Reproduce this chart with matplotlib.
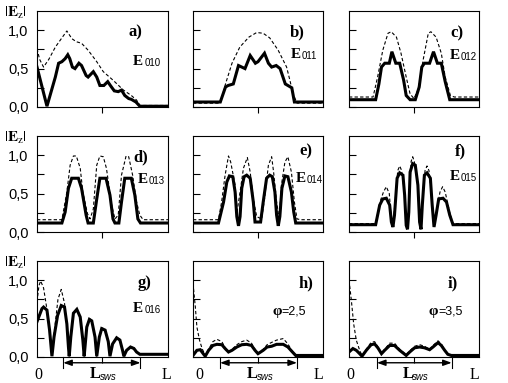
import matplotlib
matplotlib.use('Agg')
import matplotlib.pyplot as plt

plt.rcParams['font.family'] = ['Liberation Sans', 'DejaVu Sans']
plt.rcParams['mathtext.fontset'] = 'stix'

# --- data (x as fraction of L, y = |Ez|) ---
# a) E010
xa_s = [0, 0.076, 0.14, 0.165, 0.19, 0.215, 0.235, 0.25, 0.27, 0.29, 0.32, 0.34, 0.375, 0.39, 0.43,
        0.456, 0.48, 0.51, 0.54, 0.56, 0.59, 0.62, 0.645, 0.67, 0.70, 0.72, 0.755, 0.785, 1.0]
ya_s = [0.52, 0.01, 0.39, 0.57, 0.59, 0.63, 0.68, 0.63, 0.52, 0.50, 0.57, 0.54, 0.41, 0.39, 0.46,
        0.39, 0.28, 0.28, 0.33, 0.28, 0.21, 0.20, 0.22, 0.15, 0.11, 0.10, 0.065, 0.01, 0.01]
xa_d = [0, 0.02, 0.05, 0.09, 0.14, 0.19, 0.228, 0.266, 0.30, 0.34, 0.39, 0.456, 0.506, 0.58, 0.66,
        0.72, 0.76, 0.785, 1.0]
ya_d = [0.76, 0.62, 0.52, 0.62, 0.78, 0.90, 0.99, 0.89, 0.85, 0.83, 0.74, 0.59, 0.46, 0.35, 0.22,
        0.15, 0.09, 0.02, 0.02]

# b) E011
xb_s = [0, 0.21, 0.25, 0.27, 0.31, 0.35, 0.375, 0.40, 0.44, 0.48, 0.50, 0.55, 0.58, 0.605, 0.64,
        0.67, 0.71, 0.73, 0.76, 0.78, 1.0]
yb_s = [0.065, 0.065, 0.26, 0.28, 0.30, 0.54, 0.52, 0.50, 0.67, 0.57, 0.59, 0.70, 0.57, 0.52, 0.54,
        0.50, 0.30, 0.28, 0.25, 0.065, 0.065]
xb_d = [0, 0.21, 0.25, 0.30, 0.36, 0.43, 0.49, 0.54, 0.59, 0.655, 0.72, 0.745, 0.77, 0.80, 1.0]
yb_d = [0.05, 0.05, 0.30, 0.57, 0.78, 0.91, 0.97, 0.96, 0.90, 0.74, 0.52, 0.35, 0.17, 0.05, 0.05]

# c) E012
xc_s = [0, 0.205, 0.23, 0.25, 0.275, 0.31, 0.33, 0.36, 0.39, 0.42, 0.44, 0.47, 0.51, 0.54, 0.56,
        0.58, 0.62, 0.65, 0.68, 0.71, 0.74, 0.775, 1.0]
yc_s = [0.095, 0.095, 0.30, 0.52, 0.57, 0.57, 0.72, 0.57, 0.57, 0.35, 0.15, 0.095, 0.095, 0.26, 0.52,
        0.57, 0.57, 0.72, 0.57, 0.57, 0.33, 0.095, 0.095]
xc_d = [0, 0.185, 0.22, 0.26, 0.30, 0.325, 0.365, 0.40, 0.44, 0.47, 0.50, 0.53, 0.57, 0.61, 0.63,
        0.67, 0.71, 0.74, 0.78, 0.81, 1.0]
yc_d = [0.13, 0.13, 0.39, 0.74, 0.96, 0.98, 0.91, 0.70, 0.39, 0.17, 0.11, 0.22, 0.61, 0.96, 0.98,
        0.91, 0.70, 0.39, 0.15, 0.13, 0.13]

# d) E013
xd_s = [0, 0.19, 0.215, 0.24, 0.265, 0.316, 0.34, 0.375, 0.39, 0.43, 0.456, 0.48, 0.527, 0.557,
        0.58, 0.595, 0.625, 0.645, 0.67, 0.72, 0.747, 0.77, 0.79, 1.0]
yd_s = [0.117, 0.117, 0.26, 0.57, 0.70, 0.70, 0.57, 0.22, 0.117, 0.117, 0.43, 0.70, 0.70, 0.48,
        0.17, 0.117, 0.117, 0.39, 0.70, 0.70, 0.48, 0.17, 0.117, 0.117]
xd_d = [0, 0.19, 0.228, 0.253, 0.278, 0.30, 0.33, 0.35, 0.385, 0.405, 0.43, 0.456, 0.48, 0.506,
        0.53, 0.57, 0.595, 0.62, 0.645, 0.68, 0.70, 0.73, 0.76, 0.785, 0.81, 1.0]
yd_d = [0.16, 0.16, 0.52, 0.87, 0.99, 0.99, 0.83, 0.52, 0.24, 0.17, 0.30, 0.87, 0.99, 0.98,
        0.83, 0.35, 0.17, 0.22, 0.74, 0.99, 0.98, 0.74, 0.39, 0.22, 0.16, 0.16]

# e) E014
xe_s = [0, 0.196, 0.235, 0.26, 0.28, 0.306, 0.324, 0.337, 0.35, 0.362, 0.375, 0.393, 0.413, 0.44,
        0.464, 0.477, 0.52, 0.54, 0.566, 0.59, 0.61, 0.63, 0.643, 0.656, 0.668, 0.684, 0.707, 0.73,
        0.757, 0.775, 0.79, 1.0]
ye_s = [0.117, 0.117, 0.39, 0.65, 0.73, 0.72, 0.52, 0.20, 0.08, 0.20, 0.57, 0.72, 0.74, 0.70,
        0.39, 0.13, 0.13, 0.39, 0.70, 0.74, 0.72, 0.52, 0.22, 0.08, 0.20, 0.57, 0.73, 0.72,
        0.52, 0.26, 0.117, 0.117]
xe_d = [0, 0.196, 0.22, 0.247, 0.273, 0.29, 0.324, 0.337, 0.362, 0.388, 0.418, 0.44, 0.464, 0.49,
        0.528, 0.55, 0.58, 0.605, 0.62, 0.643, 0.663, 0.68, 0.707, 0.73, 0.757, 0.78, 0.80, 0.83, 1.0]
ye_d = [0.16, 0.16, 0.39, 0.74, 0.99, 0.91, 0.61, 0.24, 0.52, 0.83, 0.97, 0.78, 0.43, 0.20,
        0.17, 0.43, 0.87, 0.98, 0.78, 0.39, 0.17, 0.61, 0.91, 0.98, 0.78, 0.39, 0.17, 0.16, 0.16]

# f) E015
xf_s = [0, 0.205, 0.236, 0.26, 0.287, 0.313, 0.326, 0.338, 0.35, 0.37, 0.39, 0.415, 0.428, 0.44,
        0.45, 0.46, 0.47, 0.49, 0.51, 0.53, 0.543, 0.554, 0.564, 0.58, 0.60, 0.626, 0.64, 0.654,
        0.67, 0.69, 0.723, 0.75, 0.775, 0.80, 1.0]
yf_s = [0.095, 0.095, 0.35, 0.43, 0.44, 0.35, 0.13, 0.065, 0.22, 0.70, 0.77, 0.74, 0.48, 0.087,
        0.035, 0.26, 0.78, 0.89, 0.87, 0.61, 0.13, 0.035, 0.35, 0.74, 0.77, 0.70, 0.35, 0.065,
        0.22, 0.43, 0.44, 0.39, 0.22, 0.095, 0.095]
xf_d = [0, 0.205, 0.24, 0.265, 0.287, 0.31, 0.326, 0.338, 0.355, 0.375, 0.39, 0.405, 0.428, 0.44,
        0.45, 0.462, 0.478, 0.49, 0.502, 0.53, 0.543, 0.554, 0.566, 0.585, 0.60, 0.615, 0.64, 0.654,
        0.675, 0.70, 0.72, 0.74, 0.775, 0.80, 1.0]
yf_d = [0.11, 0.11, 0.40, 0.52, 0.59, 0.50, 0.15, 0.08, 0.40, 0.80, 0.86, 0.80, 0.50, 0.10,
        0.05, 0.40, 0.92, 0.98, 0.92, 0.62, 0.15, 0.05, 0.40, 0.80, 0.86, 0.80, 0.40, 0.08,
        0.30, 0.52, 0.59, 0.52, 0.25, 0.11, 0.11]

# g) E016
xg_s = [0, 0.038, 0.05, 0.076, 0.096, 0.114, 0.13, 0.157, 0.185, 0.21, 0.228, 0.24, 0.246, 0.258,
        0.278, 0.304, 0.33, 0.35, 0.36, 0.38, 0.40, 0.418, 0.443, 0.456, 0.476, 0.494, 0.52, 0.544,
        0.557, 0.577, 0.608, 0.633, 0.653, 0.663, 0.684, 0.714, 0.74, 0.76, 0.785, 1.0]
yg_s = [0.46, 0.63, 0.65, 0.61, 0.35, 0.01, 0.26, 0.54, 0.67, 0.65, 0.43, 0.13, 0.01, 0.26,
        0.57, 0.62, 0.52, 0.22, 0.01, 0.39, 0.49, 0.47, 0.26, 0.01, 0.26, 0.37, 0.35, 0.20,
        0.01, 0.17, 0.25, 0.22, 0.087, 0.01, 0.087, 0.13, 0.11, 0.065, 0.035, 0.035]
xg_d = [0, 0.015, 0.028, 0.05, 0.076, 0.096, 0.114, 0.13, 0.16, 0.185, 0.21, 0.228, 0.24, 0.246,
        0.258, 0.278, 0.304, 0.33, 0.35, 0.36, 0.38, 0.40, 0.418, 0.443, 0.456, 0.476, 0.494, 0.52,
        0.544, 0.557, 0.577, 0.608, 0.633, 0.653, 0.663, 0.684, 0.714, 0.74, 0.76, 0.785, 1.0]
yg_d = [0.72, 0.93, 0.99, 0.90, 0.62, 0.35, 0.02, 0.30, 0.75, 0.88, 0.70, 0.43, 0.13, 0.01,
        0.26, 0.58, 0.63, 0.53, 0.22, 0.01, 0.39, 0.50, 0.48, 0.26, 0.01, 0.26, 0.38, 0.36,
        0.20, 0.01, 0.17, 0.26, 0.23, 0.087, 0.01, 0.087, 0.14, 0.12, 0.065, 0.035, 0.035]

# h) phi = 2,5
xh_s = [0, 0.03, 0.056, 0.08, 0.094, 0.12, 0.153, 0.184, 0.222, 0.247, 0.273, 0.30, 0.337, 0.375,
        0.413, 0.45, 0.477, 0.50, 0.54, 0.57, 0.605, 0.643, 0.694, 0.73, 0.765, 0.79, 1.0]
yh_s = [0.02, 0.087, 0.095, 0.04, 0.01, 0.087, 0.15, 0.165, 0.16, 0.11, 0.065, 0.087, 0.13, 0.16,
        0.165, 0.15, 0.087, 0.043, 0.087, 0.13, 0.14, 0.165, 0.165, 0.13, 0.065, 0.02, 0.02]
xh_d = [0, 0.018, 0.03, 0.05, 0.07, 0.094, 0.12, 0.153, 0.184, 0.222, 0.247, 0.273, 0.30, 0.337,
        0.375, 0.413, 0.45, 0.477, 0.50, 0.54, 0.57, 0.605, 0.643, 0.694, 0.73, 0.765, 0.79, 1.0]
yh_d = [0.96, 0.65, 0.39, 0.22, 0.11, 0.02, 0.10, 0.20, 0.23, 0.20, 0.12, 0.07, 0.10, 0.16,
        0.20, 0.22, 0.18, 0.10, 0.05, 0.10, 0.16, 0.19, 0.22, 0.24, 0.17, 0.07, 0.02, 0.02]

# i) phi = 3,5
xi_s = [0, 0.03, 0.056, 0.082, 0.10, 0.133, 0.17, 0.197, 0.223, 0.25, 0.274, 0.313, 0.35, 0.39,
        0.44, 0.467, 0.505, 0.544, 0.58, 0.62, 0.646, 0.685, 0.71, 0.736, 0.76, 0.787, 1.0]
yi_s = [0.065, 0.11, 0.087, 0.043, 0.01, 0.087, 0.16, 0.17, 0.117, 0.043, 0.087, 0.15, 0.15, 0.087,
        0.02, 0.065, 0.12, 0.13, 0.12, 0.095, 0.13, 0.187, 0.15, 0.087, 0.035, 0.02, 0.02]
xi_d = [0, 0.018, 0.036, 0.056, 0.082, 0.10, 0.133, 0.17, 0.197, 0.223, 0.25, 0.274, 0.313, 0.35,
        0.39, 0.44, 0.467, 0.505, 0.544, 0.58, 0.62, 0.646, 0.685, 0.71, 0.736, 0.76, 0.787, 1.0]
yi_d = [1.0, 0.74, 0.43, 0.22, 0.087, 0.02, 0.10, 0.19, 0.20, 0.13, 0.05, 0.10, 0.18, 0.18,
        0.10, 0.03, 0.08, 0.14, 0.16, 0.14, 0.10, 0.15, 0.21, 0.17, 0.09, 0.035, 0.02, 0.02]

panel_letters = ['a)', 'b)', 'c)', 'd)', 'e)', 'f)', 'g)', 'h)', 'i)']
mode_subs = ['010', '011', '012', '013', '014', '015', '016', None, None]
phi_labels = [None] * 7 + ['=2,5', '=3,5']
y_ticks = [0.0, 0.5, 1.0]
y_ticklabels = ['0,0', '0,5', '1,0']

curves = [(xa_s, ya_s, xa_d, ya_d), (xb_s, yb_s, xb_d, yb_d), (xc_s, yc_s, xc_d, yc_d),
          (xd_s, yd_s, xd_d, yd_d), (xe_s, ye_s, xe_d, ye_d), (xf_s, yf_s, xf_d, yf_d),
          (xg_s, yg_s, xg_d, yg_d), (xh_s, yh_s, xh_d, yh_d), (xi_s, yi_s, xi_d, yi_d)]

# --- layout (pixels of the 508x383 image) ---
W, H = 508, 383
fig = plt.figure(figsize=(W / 100, H / 100), dpi=100)
fig.patch.set_facecolor('white')

col_px = [(37, 131), (193, 130), (349, 130)]
row_bottom = [107, 232, 357]
ax_h = 96

# label positions in axes fraction
letter_pos = [(0.695, 0.74), (0.746, 0.74), (0.777, 0.73),
              (0.733, 0.74), (0.82, 0.80), (0.815, 0.80),
              (0.77, 0.73), (0.81, 0.73), (0.755, 0.73)]
mode_pos = [(0.733, 0.44), (0.754, 0.51), (0.777, 0.50),
            (0.77, 0.51), (0.79, 0.52), (0.777, 0.54),
            (0.733, 0.47), (0.61, 0.44), (0.615, 0.44)]
arrow_span = [(0.20, 0.79), (0.208, 0.80), (0.215, 0.79)]

serif = ['Liberation Serif', 'DejaVu Serif']

for k in range(9):
    r, c = divmod(k, 3)
    left, wpx = col_px[c]
    ax = fig.add_axes([left / W, 1 - row_bottom[r] / H, wpx / W, ax_h / H])
    xs, ys, xd, yd = curves[k]
    ax.plot(xd, yd, color='black', lw=0.8, dashes=(3, 2))
    ax.plot(xs, ys, color='black', lw=2.2, solid_joinstyle='miter')
    ax.set_xlim(0, 1)
    ax.set_ylim(0, 1.25)

    for s in ax.spines.values():
        s.set_linewidth(0.8)

    ax.set_yticks(y_ticks)
    ax.set_yticks([0.25, 0.75], minor=True)
    if c == 0:
        ax.set_yticklabels(y_ticklabels, fontsize=10.5)
    else:
        ax.set_yticklabels([])
    ax.tick_params(axis='y', which='both', direction='in', length=5, width=0.8, pad=6)
    ax.set_xticks([0.5])
    ax.set_xticklabels([])
    ax.tick_params(axis='x', direction='out', length=4, width=0.8)

    ax.text(*letter_pos[k], panel_letters[k], transform=ax.transAxes, fontsize=12,
            fontweight='bold', family=serif, ha='left', va='baseline')
    mx, my = mode_pos[k]
    if mode_subs[k] is not None:
        ax.text(mx, my, 'E', transform=ax.transAxes, fontsize=11, fontweight='bold',
                family=serif, ha='left', va='baseline')
        ax.text(mx + 0.085, my - 0.01, mode_subs[k], transform=ax.transAxes, fontsize=7,
                ha='left', va='baseline')
    else:
        ax.text(mx, my, 'φ', transform=ax.transAxes, fontsize=11, fontweight='bold',
                family=serif, ha='left', va='baseline')
        ax.text(mx + 0.07, my, phi_labels[k], transform=ax.transAxes, fontsize=9,
                ha='left', va='baseline')

    if r == 2:
        x0, x1 = arrow_span[c]
        ax.text(0.01 if c != 1 else 0.05, -0.23, '0', transform=ax.transAxes, fontsize=11.5,
                family=serif, ha='center', va='baseline')
        ax.text(0.99 if c == 0 else 0.965, -0.23, 'L', transform=ax.transAxes, fontsize=11.5,
                family=serif, ha='center', va='baseline')
        for xv in (x0, x1):
            ax.plot([xv, xv], [0, -0.11], transform=ax.transAxes, color='black',
                    lw=0.8, clip_on=False)
        ax.annotate('', xy=(x1, -0.06), xytext=(x0, -0.06), xycoords='axes fraction',
                    textcoords='axes fraction',
                    arrowprops=dict(arrowstyle='<|-|>,head_length=0.5,head_width=0.18',
                                    color='black', lw=1.0, shrinkA=0, shrinkB=0))
        mid = (x0 + x1) / 2
        ax.text(mid - 0.09, -0.215, 'L', transform=ax.transAxes, fontsize=12,
                fontweight='bold', family=serif, ha='left', va='baseline')
        ax.text(mid - 0.015, -0.24, 'sws', transform=ax.transAxes, fontsize=7,
                style='italic', ha='left', va='baseline')

# |Ez| labels at the top-left of each row
for ytop in (5, 130, 255):
    fig.text(4 / W, 1 - ytop / H, r'$|\mathbf{E}_{\mathrm{z}}|$', fontsize=11,
             ha='left', va='top')

fig.savefig('out.png', dpi=100, facecolor='white')
